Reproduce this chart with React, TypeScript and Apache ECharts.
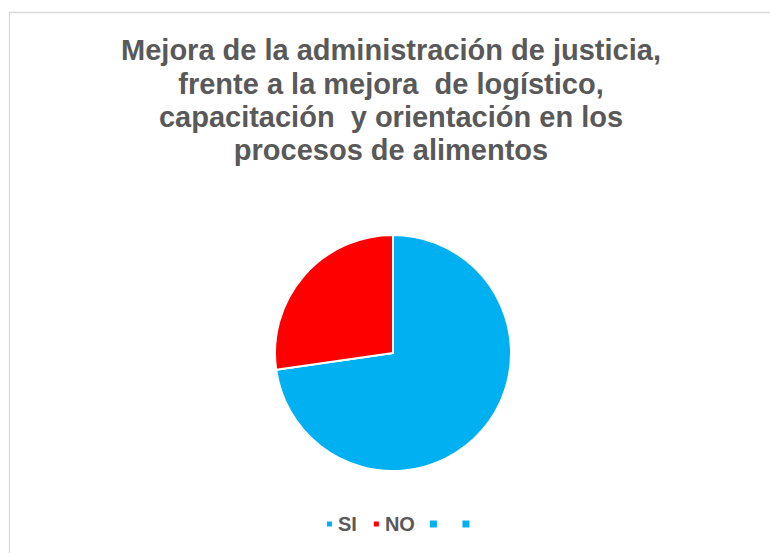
import React, { useEffect, useRef } from "react";
import * as echarts from "echarts";

const titleLines = [
  "Mejora de la administración de justicia,",
  "frente a la mejora  de logístico,",
  "capacitación  y orientación en los",
  "procesos de alimentos",
];
const categories = ["SI", "NO", " ", "  "];
const values = [8, 3, 0, 0];
const colors = ["#00B0F0", "#FF0000", "#00B0F0", "#00B0F0"];

export default function App() {
  const ref = useRef<HTMLDivElement>(null);
  useEffect(() => {
    if (!ref.current) return;
    const chart = echarts.init(ref.current, null, { renderer: "svg" });
    chart.setOption({
      animation: false,
      backgroundColor: "#ffffff",
      title: {
        text: titleLines.join("\n"),
        left: 386,
        textAlign: "center",
        top: 28.5,
        textStyle: {
          fontFamily: "Liberation Sans, Arial, sans-serif",
          fontSize: 29,
          fontWeight: "bold",
          color: "#595959",
          lineHeight: 33.4,
        },
      },
      graphic: [
        {
          type: "rect",
          shape: { x: 9.5, y: 12.5, width: 800, height: 600 },
          style: { fill: "none", stroke: "#d9d9d9", lineWidth: 1.3 },
          silent: true,
        },
      ],
      legend: {
        data: categories,
        top: 509,
        left: 320,
        itemWidth: 7,
        itemHeight: 7,
        itemGap: 15,
        icon: "rect",
        selectedMode: false,
        textStyle: {
          fontFamily: "Liberation Sans, Arial, sans-serif",
          fontSize: 20,
          fontWeight: "bold",
          color: "#595959",
        },
      },
      series: [
        {
          type: "pie",
          center: [393, 353],
          radius: 118,
          startAngle: 90,
          clockwise: true,
          label: { show: false },
          labelLine: { show: false },
          stillShowZeroSum: false,
          emphasis: { disabled: true },
          itemStyle: { borderColor: "#ffffff", borderWidth: 2 },
          data: categories.map((c, i) => ({
            name: c,
            value: values[i],
            itemStyle: { color: colors[i], borderWidth: values[i] === 0 ? 0 : 2 },
          })),
        },
      ],
    });
    return () => chart.dispose();
  }, []);
  return (
    <div
      ref={ref}
      style={{ position: "absolute", left: 0, top: 0, width: 770, height: 553 }}
    />
  );
}
